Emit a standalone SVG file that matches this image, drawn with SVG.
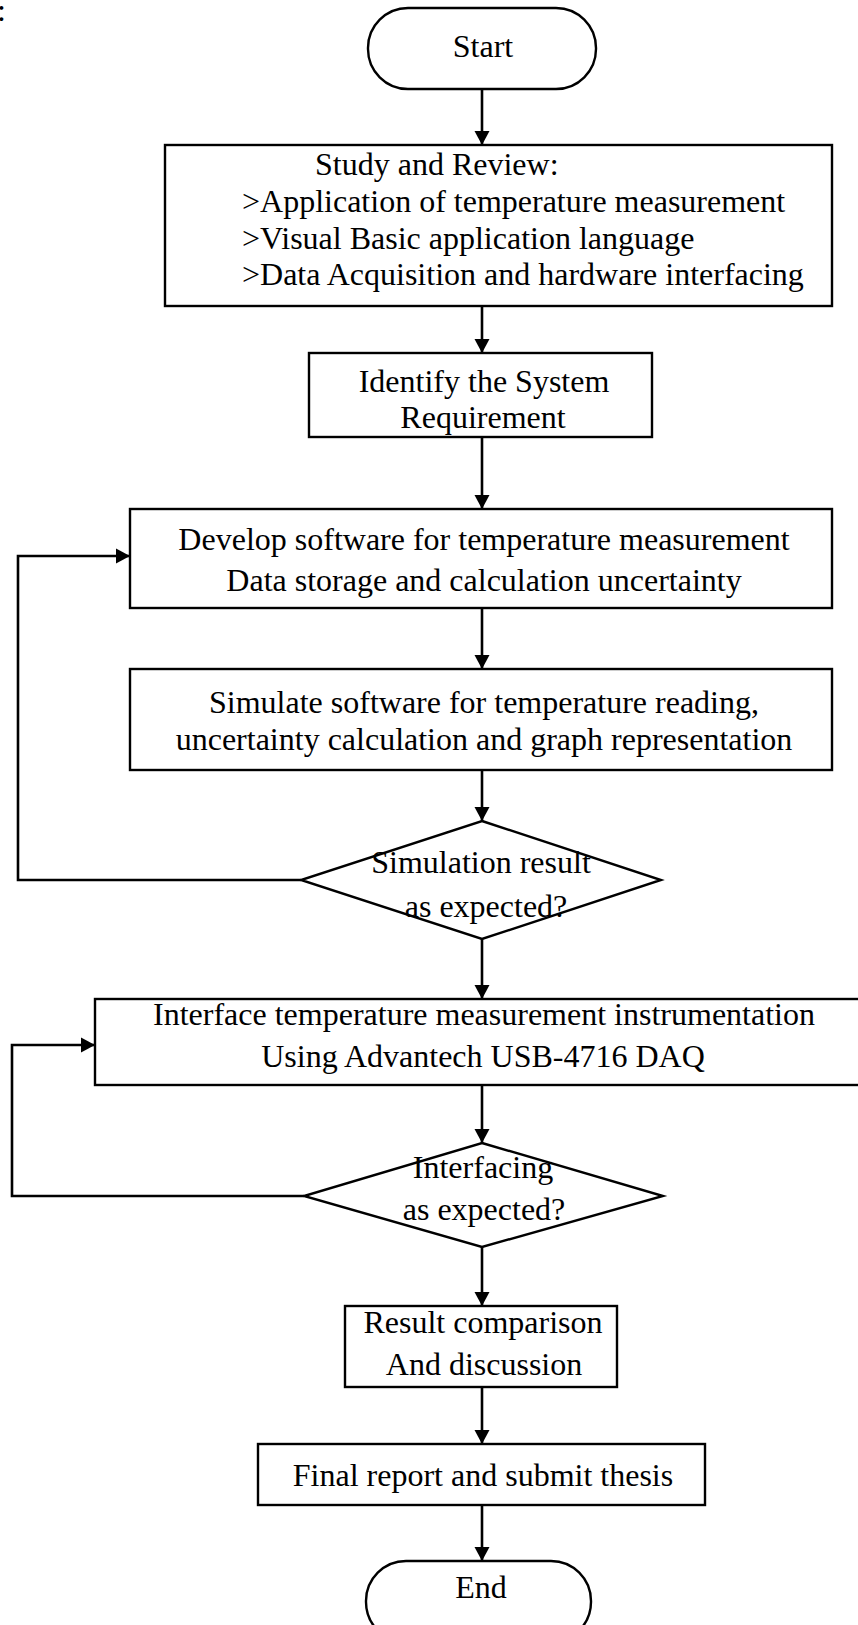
<svg xmlns="http://www.w3.org/2000/svg" width="858" height="1625" viewBox="0 0 858 1625">
  <style>
    .box { fill: #ffffff; stroke: #000000; stroke-width: 2.4; }
    .edge { fill: none; stroke: #000000; stroke-width: 2.6; }
    .lbl { font-family: "Liberation Serif", "Times New Roman", serif; font-size: 32px; fill: #000000; }
    .mid { text-anchor: middle; }
  </style>
  <defs>
    <marker id="arrow" markerUnits="userSpaceOnUse" markerWidth="15" markerHeight="16" refX="14" refY="8" orient="auto">
      <path d="M0,0.5 L14,8 L0,15.5 z" fill="#000000"/>
    </marker>
  </defs>

  <rect width="858" height="1625" fill="#ffffff"/>

  <!-- stray colon at the page edge -->
  <text class="lbl" x="-3" y="21">:</text>

  <!-- connectors -->
  <g id="connectors">
    <line class="edge" x1="482" y1="89" x2="482" y2="145" marker-end="url(#arrow)"/>
    <line class="edge" x1="482" y1="306" x2="482" y2="353" marker-end="url(#arrow)"/>
    <line class="edge" x1="482" y1="437" x2="482" y2="509" marker-end="url(#arrow)"/>
    <line class="edge" x1="482" y1="608" x2="482" y2="669" marker-end="url(#arrow)"/>
    <line class="edge" x1="482" y1="770" x2="482" y2="821" marker-end="url(#arrow)"/>
    <polyline class="edge" points="301,880 18,880 18,556 130,556" marker-end="url(#arrow)"/>
    <line class="edge" x1="482" y1="939" x2="482" y2="999" marker-end="url(#arrow)"/>
    <line class="edge" x1="482" y1="1085" x2="482" y2="1143" marker-end="url(#arrow)"/>
    <polyline class="edge" points="304,1196 12,1196 12,1045 95,1045" marker-end="url(#arrow)"/>
    <line class="edge" x1="482" y1="1247" x2="482" y2="1306" marker-end="url(#arrow)"/>
    <line class="edge" x1="482" y1="1387" x2="482" y2="1444" marker-end="url(#arrow)"/>
    <line class="edge" x1="482" y1="1505" x2="482" y2="1561" marker-end="url(#arrow)"/>
  </g>

  <g id="start">
    <rect class="box" x="368" y="8" width="228" height="81" rx="40" ry="40"/>
    <text class="lbl mid" x="483" y="57">Start</text>
  </g>

  <g id="study">
    <rect class="box" x="165" y="145" width="667" height="161"/>
    <text class="lbl" x="315" y="175">Study and Review:</text>
    <text class="lbl" x="242" y="212">&gt;Application of temperature measurement</text>
    <text class="lbl" x="242" y="249">&gt;Visual Basic application language</text>
    <text class="lbl" x="242" y="285">&gt;Data Acquisition and hardware interfacing</text>
  </g>

  <g id="identify">
    <rect class="box" x="309" y="353" width="343" height="84"/>
    <text class="lbl mid" x="484" y="392">Identify the System</text>
    <text class="lbl mid" x="483" y="428">Requirement</text>
  </g>

  <g id="develop">
    <rect class="box" x="130" y="509" width="702" height="99"/>
    <text class="lbl mid" x="484" y="550">Develop software for temperature measurement</text>
    <text class="lbl mid" x="484" y="591">Data storage and calculation uncertainty</text>
  </g>

  <g id="simulate">
    <rect class="box" x="130" y="669" width="702" height="101"/>
    <text class="lbl mid" x="484" y="713">Simulate software for temperature reading,</text>
    <text class="lbl mid" x="484" y="750">uncertainty calculation and graph representation</text>
  </g>

  <g id="decision-simulation">
    <polygon class="box" points="482,821 661,880 482,939 301,880"/>
    <text class="lbl mid" x="481" y="873">Simulation result</text>
    <text class="lbl mid" x="486" y="917">as expected?</text>
  </g>

  <g id="interface">
    <rect class="box" x="95" y="999" width="775" height="86"/>
    <text class="lbl mid" x="484" y="1025">Interface temperature measurement instrumentation</text>
    <text class="lbl mid" x="483" y="1067">Using Advantech USB-4716 DAQ</text>
  </g>

  <g id="decision-interfacing">
    <polygon class="box" points="482,1143 663,1196 482,1247 304,1196"/>
    <text class="lbl mid" x="483" y="1178">Interfacing</text>
    <text class="lbl mid" x="484" y="1220">as expected?</text>
  </g>

  <g id="result">
    <rect class="box" x="345" y="1306" width="272" height="81"/>
    <text class="lbl mid" x="483" y="1333">Result comparison</text>
    <text class="lbl mid" x="484" y="1375">And discussion</text>
  </g>

  <g id="final">
    <rect class="box" x="258" y="1444" width="447" height="61"/>
    <text class="lbl mid" x="483" y="1486">Final report and submit thesis</text>
  </g>

  <g id="end">
    <rect class="box" x="366" y="1561" width="225" height="81" rx="40" ry="40"/>
    <text class="lbl mid" x="481" y="1598">End</text>
  </g>
</svg>
